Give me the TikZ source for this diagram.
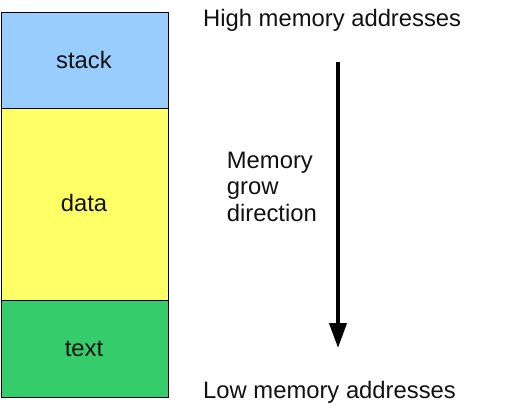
\documentclass[tikz,border=0pt]{standalone}
\usepackage{fontspec}
\setmainfont{Liberation Sans}
\usetikzlibrary{arrows.meta}
\definecolor{stackblue}{HTML}{99CCFF}
\definecolor{datayellow}{HTML}{FFFF66}
\definecolor{textgreen}{HTML}{35CD6B}
\definecolor{ink}{HTML}{111111}
\tikzset{
  seg/.style={draw=black, line width=1pt, inner sep=0pt, minimum width=167.5pt, anchor=north west},
  lbl/.style={inner sep=0pt, text=ink, font=\fontsize{23.8}{26.5}\selectfont},
}
\begin{document}
\begin{tikzpicture}[x=1pt,y=-1pt]
\useasboundingbox (0,0) rectangle (529,410);
\node[seg, fill=stackblue, minimum height=96pt] (stack) at (0.5,12) {};
\node[seg, fill=datayellow, minimum height=192pt] (data) at (0.5,108) {};
\node[seg, fill=textgreen, minimum height=97pt] (text) at (0.5,300) {};
\node[lbl, anchor=base] (stacklbl) at (84,68) {stack};
\node[lbl, anchor=base] (datalbl) at (84,211.7) {data};
\node[lbl, anchor=base] (textlbl) at (84,356.7) {text};
\node[lbl, anchor=base west] (high) at (203,26) {High memory addresses};
\node[lbl, anchor=base west] (low) at (203,398.7) {Low memory addresses};
\node[lbl, anchor=north west, align=left] (grow) at (226.7,151.5) {Memory\\grow\\direction};
\coordinate (atop) at (338,62);
\coordinate (abot) at (338,348);
\draw[line width=4pt, -{Triangle[width=17pt,length=25pt]}] (atop) -- (abot);
\end{tikzpicture}
\end{document}
